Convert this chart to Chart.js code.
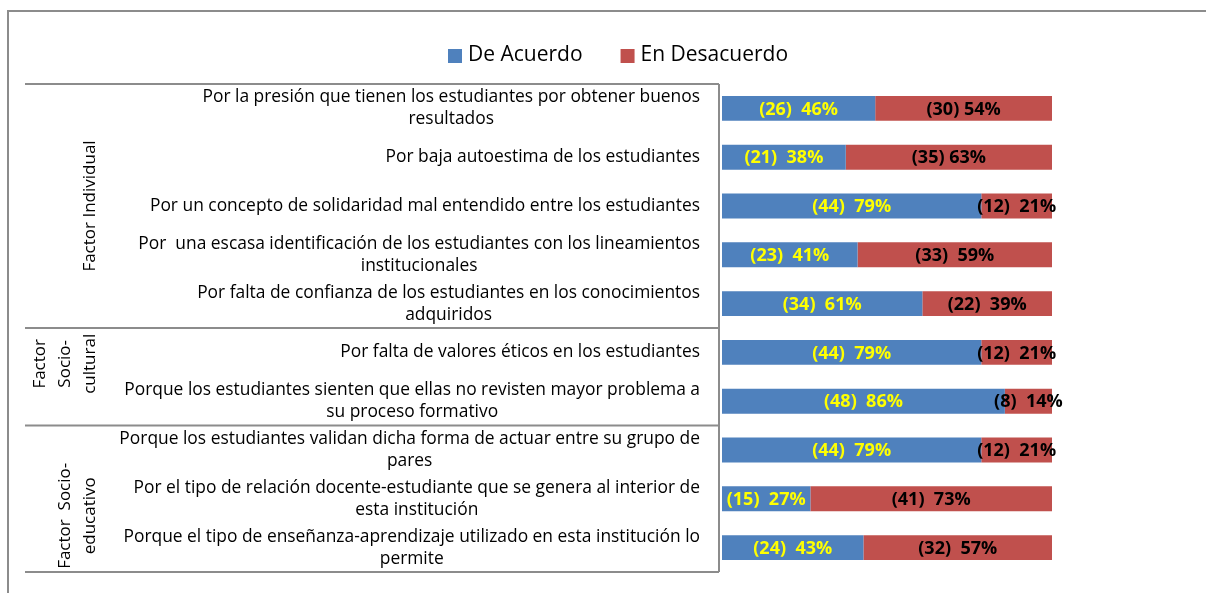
<!DOCTYPE html>
<html>
<head>
<meta charset="utf-8">
<script src="https://cdn.jsdelivr.net/npm/chart.js@4.4.0/dist/chart.umd.min.js"></script>
<style>
  body { margin: 0; background: #fff; }
  #wrap { width: 1206px; height: 593px; }
</style>
</head>
<body>
<div id="wrap"><canvas id="grafico"></canvas></div>
<script>
// categorías, ya partidas en líneas como en el original
var categorias = [
  ["Por la presión que tienen los estudiantes por obtener buenos", "resultados"],
  ["Por baja autoestima de los estudiantes"],
  ["Por un concepto de solidaridad mal entendido entre los estudiantes"],
  ["Por  una escasa identificación de los estudiantes con los lineamientos", "institucionales"],
  ["Por falta de confianza de los estudiantes en los conocimientos", "adquiridos"],
  ["Por falta de valores éticos en los estudiantes"],
  ["Porque los estudiantes sienten que ellas no revisten mayor problema a", "su proceso formativo"],
  ["Porque los estudiantes validan dicha forma de actuar entre su grupo de", "pares"],
  ["Por el tipo de relación docente-estudiante que se genera al interior de", "esta institución"],
  ["Porque el tipo de enseñanza-aprendizaje utilizado en esta institución lo", "permite"]
];

// grupos de factores
var grupoNombres = [["Factor Individual"], ["Factor", "Socio-", "cultural"], ["Factor  Socio-", "educativo"]];
var grupoInicio = [0, 5, 7];
var grupoFin = [4, 6, 9];

// respuestas (n) y porcentajes
var deAcuerdo = [26, 21, 44, 23, 34, 44, 48, 44, 15, 24];
var enDesacuerdo = [30, 35, 12, 33, 22, 12, 8, 12, 41, 32];
var pctAcuerdo = [46, 38, 79, 41, 61, 79, 86, 79, 27, 43];
var pctDesacuerdo = [54, 63, 21, 59, 39, 21, 14, 21, 73, 57];
var totalEncuestados = 56;

var series = ["De Acuerdo", "En Desacuerdo"];
var colores = ["#4F81BD", "#C0504D"];
var coloresTexto = ["#FFFF00", "#000000"];

var fuente = "'Open Sans', 'Noto Sans', sans-serif";
var gris = "#8c8c8c";

// dibuja marco, leyenda, etiquetas y recuadro de categorías
var decoracion = {
  id: "decoracion",
  afterDraw: function (chart) {
    var ctx = chart.ctx;
    var y = chart.scales.y;
    var banda = y.getPixelForValue(1) - y.getPixelForValue(0);

    ctx.save();

    // marco exterior
    ctx.strokeStyle = gris;
    ctx.lineWidth = 2;
    ctx.beginPath();
    ctx.moveTo(1206, 11);
    ctx.lineTo(8, 11);
    ctx.lineTo(8, 593);
    ctx.stroke();

    // leyenda
    ctx.font = "21px " + fuente;
    ctx.textBaseline = "middle";
    ctx.textAlign = "left";
    var lx = 448;
    series.forEach(function (nombre, i) {
      ctx.fillStyle = colores[i];
      ctx.fillRect(lx, 49, 14, 14);
      ctx.fillStyle = "#000";
      ctx.fillText(nombre, lx + 20, 55);
      lx += 20 + ctx.measureText(nombre).width + 38;
    });

    // recuadro de categorías
    var top = y.getPixelForValue(0) - banda / 2;
    var bottom = y.getPixelForValue(categorias.length - 1) + banda / 2;
    ctx.lineWidth = 2;
    ctx.strokeStyle = gris;
    ctx.beginPath();
    ctx.moveTo(719, top);
    ctx.lineTo(719, bottom);
    ctx.moveTo(25, top);
    ctx.lineTo(719, top);
    grupoFin.forEach(function (fin) {
      var yy = y.getPixelForValue(fin) + banda / 2;
      ctx.moveTo(25, yy);
      ctx.lineTo(719, yy);
    });
    ctx.stroke();

    // etiquetas de categoría
    ctx.font = "17.4px " + fuente;
    ctx.fillStyle = "#000";
    ctx.textAlign = "center";
    var altoLinea = 22;
    categorias.forEach(function (lineas, i) {
      var yc = y.getPixelForValue(i);
      var ancho = Math.max.apply(null, lineas.map(function (l) { return ctx.measureText(l).width; }));
      var xc = 700 - ancho / 2;
      lineas.forEach(function (l, k) {
        ctx.fillText(l, xc, yc + (k - (lineas.length - 1) / 2) * altoLinea);
      });
    });

    // nombres de grupo (verticales)
    ctx.font = "17px " + fuente;
    var ajuste = [0, -13, 17];
    grupoNombres.forEach(function (lineas, g) {
      var yc = (y.getPixelForValue(grupoInicio[g]) + y.getPixelForValue(grupoFin[g])) / 2 + ajuste[g];
      lineas.forEach(function (l, k) {
        var xc = 90 - (lineas.length - 1 - k) * 25;
        ctx.save();
        ctx.translate(xc, yc);
        ctx.rotate(-Math.PI / 2);
        ctx.fillText(l, 0, 0);
        ctx.restore();
      });
    });

    // valores sobre las barras
    ctx.font = "bold 18px " + fuente;
    ctx.textAlign = "center";
    chart.data.datasets.forEach(function (ds, d) {
      var meta = chart.getDatasetMeta(d);
      var n = d === 0 ? deAcuerdo : enDesacuerdo;
      var p = d === 0 ? pctAcuerdo : pctDesacuerdo;
      ctx.fillStyle = coloresTexto[d];
      meta.data.forEach(function (bar, i) {
        var sep = d === 1 && i < 2 ? " " : "  ";
        var texto = "(" + n[i] + ")" + sep + p[i] + "%";
        ctx.fillText(texto, (bar.x + bar.base) / 2, bar.y + 1);
      });
    });

    ctx.restore();
  }
};

var ctx = document.getElementById("grafico").getContext("2d");
var grafico = new Chart(ctx, {
  type: "bar",
  data: {
    labels: categorias,
    datasets: [
      { label: series[0], data: deAcuerdo, backgroundColor: colores[0] },
      { label: series[1], data: enDesacuerdo, backgroundColor: colores[1] }
    ]
  },
  options: {
    indexAxis: "y",
    responsive: true,
    maintainAspectRatio: false,
    animation: false,
    layout: { padding: { left: 722, right: 154, top: 84, bottom: 21 } },
    datasets: { bar: { barPercentage: 0.51, categoryPercentage: 1 } },
    scales: {
      x: { stacked: true, min: 0, max: totalEncuestados, display: false },
      y: { stacked: true, display: false }
    },
    plugins: {
      legend: { display: false },
      tooltip: { enabled: false }
    }
  },
  plugins: [decoracion]
});
</script>
</body>
</html>
